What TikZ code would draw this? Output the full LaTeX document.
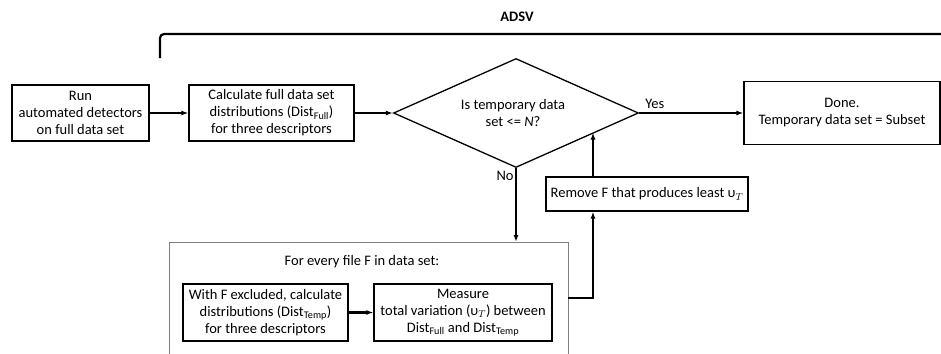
\documentclass[tikz,border=0pt]{standalone}
\usepackage{fontspec}
\setmainfont{Carlito}
\usetikzlibrary{shapes.geometric,arrows.meta}
\begin{document}
\begin{tikzpicture}[x=1pt,y=-1pt,
  box/.style={draw, line width=1.3pt, inner sep=0pt, align=center, font=\fontsize{14.5}{17}\selectfont},
  txt/.style={inner sep=0pt, align=center, font=\fontsize{14.5}{17}\selectfont},
  arr/.style={line width=2.2pt, -{Latex[length=7pt,width=5pt]}},
  ln/.style={line width=2.2pt}]
\clip (0,0) rectangle (941,353);
\fill[white] (0,0) rectangle (941,353);
% ADSV bracket
\node[txt, font=\fontsize{14.5}{17}\selectfont\bfseries] (adsv) at (517,17) {ADSV};
\coordinate (bs) at (160,58);
\coordinate (be) at (945,34);
\draw[ln, rounded corners=4pt] (bs) |- (be);
% main row
\node[box, minimum width=137pt, minimum height=56pt] (run) at (80.5,113) {Run\\automated detectors\\on full data set};
\node[box, minimum width=165pt, minimum height=56pt] (calc) at (271.5,113) {Calculate full data set\\distributions (Dist\textsubscript{Full})\\for three descriptors};
\node[draw, diamond, line width=1.3pt, minimum width=245pt, minimum height=109pt, inner sep=0pt] (dec) at (516,113) {};
\node[txt] (dectxt) at (513,113) {Is temporary data\\set <= \textit{N}?};
\node[box, minimum width=196pt, minimum height=63pt] (done) at (842,113) {Done.\\Temporary data set = Subset};
\draw[arr] (run) -- (calc);
\draw[arr] (calc) -- (dec.west);
\draw[arr] (dec.east) -- (done.west) node[txt, pos=0.15, above=3pt] (yes) {Yes};
% loop
\node[draw, gray, line width=0.8pt, minimum width=399pt, minimum height=140pt, anchor=north west, inner sep=0pt] (outer) at (169,242) {};
\node[txt] (fortxt) at (362,262) {For every file F in data set:};
\node[box, minimum width=165pt, minimum height=57pt] (excl) at (265.5,312.5) {With F excluded, calculate\\distributions (Dist\textsubscript{Temp})\\for three descriptors};
\node[box, minimum width=178pt, minimum height=57pt] (meas) at (463,312.5) {Measure\\total variation (υ$_T$) between\\Dist\textsubscript{Full} and Dist\textsubscript{Temp}};
\draw[arr] (excl) -- (meas);
\coordinate (nodown) at (516,242);
\draw[arr] (dec.south) -- (nodown);
\node[txt] (no) at (505,176) {No};
\node[box, minimum width=202pt, minimum height=34pt] (rem) at (647,194) {Remove F that produces least υ$_T$};
\coordinate (outr) at (568,298);
\coordinate (corner) at (593,298);
\draw[arr] (outr) -- (corner) -- (corner |- rem.south);
\coordinate (decpt) at (593,132.5);
\draw[arr] (corner |- rem.north) -- (decpt);
\end{tikzpicture}
\end{document}
